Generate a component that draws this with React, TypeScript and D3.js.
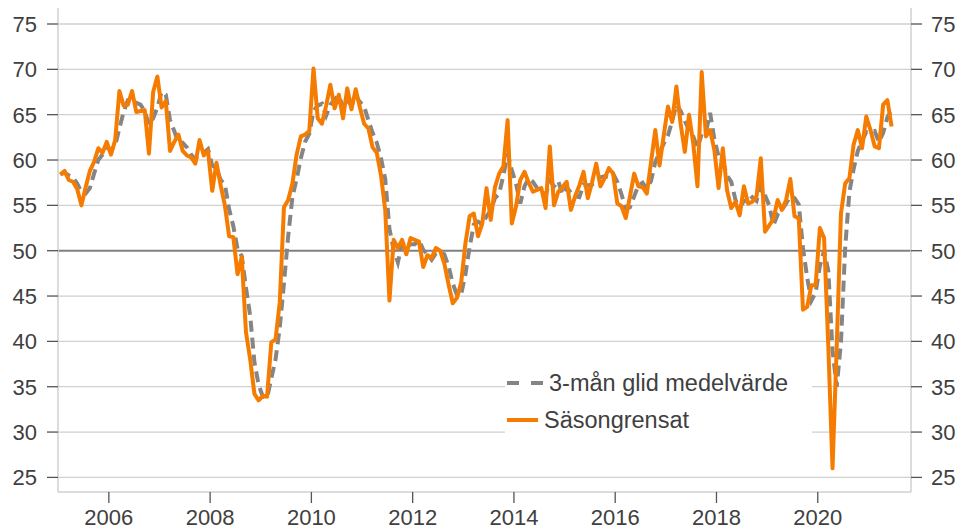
import React from "react";
import * as d3 from "d3";

// Monthly data, Jan 2005 – Jun 2021
const startYear = 2005;

// Säsongrensat (seasonally adjusted)
const sasongrensat: number[] = [
  // 2005
  58.4, 58.8, 57.8, 57.6, 56.8, 55.0, 57.0, 58.8, 59.8, 61.3, 60.8, 62.0,
  // 2006
  60.6, 62.2, 67.6, 66.0, 66.1, 67.6, 65.3, 65.4, 65.5, 60.7, 67.5, 69.2,
  // 2007
  65.8, 66.5, 61.0, 62.0, 62.8, 61.0, 60.5, 60.3, 59.6, 62.2, 60.5, 61.0,
  // 2008
  56.6, 59.7, 57.2, 55.0, 51.6, 51.5, 47.4, 49.3, 41.0, 38.0, 34.2, 33.5,
  // 2009
  34.0, 33.9, 39.9, 40.2, 44.3, 54.8, 55.6, 57.4, 60.6, 62.6, 62.8, 63.2,
  // 2010
  70.1, 64.6, 64.0, 66.0, 68.3, 65.7, 67.2, 64.6, 67.9, 65.6, 67.8, 65.8,
  // 2011
  64.0, 63.5, 61.4, 60.8, 58.3, 54.5, 44.5, 51.2, 50.3, 51.2, 49.6, 51.4,
  // 2012
  51.2, 51.0, 48.2, 49.5, 49.2, 50.3, 50.0, 48.6, 46.3, 44.2, 44.8, 46.5,
  // 2013
  50.8, 53.8, 54.1, 51.6, 53.0, 56.9, 53.4, 57.0, 58.5, 59.3, 64.4, 53.0,
  // 2014
  54.9, 57.8, 58.7, 57.5, 56.5, 56.7, 56.9, 54.7, 61.5, 55.0, 56.5, 57.0,
  // 2015
  57.6, 54.5, 56.0, 57.2, 58.7, 55.8, 57.5, 59.6, 57.1, 58.0, 59.1, 58.5,
  // 2016
  55.2, 54.9, 53.6, 56.0, 58.5, 57.1, 57.0, 56.3, 59.8, 63.3, 59.4, 62.7,
  // 2017
  65.9, 64.2, 68.1, 64.0, 60.9, 65.0, 61.8, 57.1, 69.7, 62.6, 63.3, 61.1,
  // 2018
  56.9, 61.3, 56.7, 54.7, 55.4, 53.9, 57.1, 55.2, 55.4, 56.0, 60.2, 52.1,
  // 2019
  52.8, 53.5, 55.6, 54.5, 55.6, 57.9, 53.8, 53.6, 43.5, 43.8, 46.2, 46.2,
  // 2020
  52.5, 51.4, 39.5, 26.0, 39.5, 54.1, 57.4, 58.0, 61.7, 63.3, 61.3, 64.8,
  // 2021
  63.3, 61.5, 61.3, 66.1, 66.6, 63.7,
];

// 3-mån glid medelvärde (3-month moving average)
const glidMedel: number[] = [
  // 2005
  58.4, 58.6, 58.3, 58.1, 57.4, 56.5, 56.3, 56.9, 58.5, 60.0, 60.6, 61.4,
  // 2006
  61.1, 61.6, 63.5, 65.3, 66.6, 66.6, 66.3, 66.1, 65.4, 63.9, 64.6, 65.8,
  // 2007
  67.5, 67.2, 64.4, 63.2, 61.9, 61.9, 61.4, 60.6, 60.1, 60.7, 60.8, 61.2,
  // 2008
  59.4, 59.1, 57.8, 57.3, 54.6, 52.7, 50.2, 49.4, 45.9, 42.8, 37.7, 35.2,
  // 2009
  33.9, 33.8, 35.9, 38.0, 41.5, 46.4, 51.6, 55.9, 57.9, 60.2, 62.0, 62.9,
  // 2010
  65.4, 66.0, 66.2, 64.9, 66.1, 66.7, 67.1, 65.8, 66.6, 66.0, 67.1, 66.4,
  // 2011
  65.9, 64.4, 63.0, 61.9, 60.2, 57.9, 52.4, 50.1, 48.7, 50.9, 50.4, 50.7,
  // 2012
  50.7, 51.2, 50.1, 49.6, 49.0, 49.7, 49.8, 49.6, 48.3, 46.4, 45.1, 45.2,
  // 2013
  47.4, 50.4, 52.9, 53.2, 52.9, 53.8, 54.4, 55.8, 56.3, 58.3, 60.7, 58.9,
  // 2014
  57.4, 55.2, 57.1, 58.0, 57.6, 56.9, 56.7, 56.1, 57.7, 57.1, 57.7, 56.2,
  // 2015
  57.0, 56.4, 56.0, 55.9, 57.3, 57.2, 57.3, 57.6, 58.1, 58.2, 58.1, 58.5,
  // 2016
  57.6, 56.2, 54.6, 54.8, 56.0, 57.2, 57.5, 56.8, 57.7, 59.8, 60.8, 61.8,
  // 2017
  62.7, 64.3, 66.1, 65.4, 64.3, 63.3, 62.6, 61.3, 62.9, 63.1, 65.2, 62.3,
  // 2018
  60.4, 59.8, 58.3, 57.6, 55.6, 54.7, 55.5, 55.4, 55.9, 55.5, 57.2, 56.1,
  // 2019
  55.0, 52.8, 54.0, 54.5, 55.2, 56.0, 55.8, 55.1, 50.3, 47.0, 44.5, 45.4,
  // 2020
  48.3, 50.0, 47.8, 39.0, 35.0, 39.9, 50.3, 56.5, 59.0, 61.0, 62.1, 63.1,
  // 2021
  63.1, 63.2, 62.0, 63.0, 64.7, 65.5,
];

const yTickValues = [25, 30, 35, 40, 45, 50, 55, 60, 65, 70, 75];
const xTickYears = [2006, 2008, 2010, 2012, 2014, 2016, 2018, 2020];
const seriesNames = ["3-mån glid medelvärde", "Säsongrensat"];

const ORANGE = "#f57c00";
const GRAY = "#858585";
const TEXT = "#404040";
const FONT = "'Liberation Sans', Arial, Helvetica, sans-serif";

export default function App() {
  const W = 959;
  const H = 530;
  const left = 58;
  const right = 911;
  const top = 8;
  const bottom = 492;

  const x = d3.scaleLinear().domain([-0.55, 201.6]).range([left, right]);
  const y = d3.scaleLinear().domain([25, 75]).range([477.4, 24]);

  const line = d3
    .line<number>()
    .x((_, i) => x(i))
    .y((d) => y(d))
    .curve(d3.curveLinear);

  const fontSize = 22;
  const legendFont = 23.5;

  return (
    <svg
      width={W}
      height={H}
      viewBox={`0 0 ${W} ${H}`}
      style={{ position: "absolute", left: 0, top: 0, background: "#fff" }}
    >
      <rect x={0} y={0} width={W} height={H} fill="#fff" />

      {/* gridlines */}
      {yTickValues.map((v) => (
        <line
          key={"g" + v}
          x1={left}
          x2={right}
          y1={y(v)}
          y2={y(v)}
          stroke={v === 50 ? "#808080" : "#d0d0d0"}
          strokeWidth={v === 50 ? 2 : 1.3}
        />
      ))}

      {/* frame */}
      <line x1={left} x2={left} y1={top} y2={bottom} stroke="#d0d0d0" strokeWidth={1.5} />
      <line x1={right} x2={right} y1={top} y2={bottom} stroke="#d0d0d0" strokeWidth={1.5} />
      <line x1={left} x2={right} y1={bottom} y2={bottom} stroke="#d0d0d0" strokeWidth={1.5} />

      {/* y ticks and labels */}
      {yTickValues.map((v) => (
        <g key={"yt" + v}>
          <line x1={47} x2={left} y1={y(v)} y2={y(v)} stroke="#555" strokeWidth={1.3} />
          <line x1={right} x2={922} y1={y(v)} y2={y(v)} stroke="#555" strokeWidth={1.3} />
          <text
            x={37}
            y={y(v)}
            dy="0.36em"
            textAnchor="end"
            fontFamily={FONT}
            fontSize={fontSize}
            fill={TEXT}
          >
            {v}
          </text>
          <text
            x={931}
            y={y(v)}
            dy="0.36em"
            textAnchor="start"
            fontFamily={FONT}
            fontSize={fontSize}
            fill={TEXT}
          >
            {v}
          </text>
        </g>
      ))}

      {/* x ticks and labels */}
      {xTickYears.map((yr) => {
        const xi = x((yr - startYear) * 12 - 0.5);
        return (
          <g key={"xt" + yr}>
            <line x1={xi} x2={xi} y1={bottom} y2={503} stroke="#555" strokeWidth={1.3} />
            <text
              x={xi}
              y={525}
              textAnchor="middle"
              fontFamily={FONT}
              fontSize={fontSize}
              fill={TEXT}
            >
              {yr}
            </text>
          </g>
        );
      })}

      {/* series */}
      <path
        d={line(glidMedel) || ""}
        fill="none"
        stroke={GRAY}
        strokeWidth={4}
        strokeDasharray="11 6"
      />
      <path
        d={line(sasongrensat) || ""}
        fill="none"
        stroke={ORANGE}
        strokeWidth={4}
        strokeLinejoin="round"
      />

      {/* legend */}
      <rect x={505} y={363} width={307} height={77} fill="#fff" />
      <line x1={507} x2={543} y1={383} y2={383} stroke={GRAY} strokeWidth={4} strokeDasharray="12 12" />
      <text x={549} y={383} dy="0.36em" fontFamily={FONT} fontSize={legendFont} fill={TEXT}>
        {seriesNames[0]}
      </text>
      <line x1={507} x2={538} y1={420} y2={420} stroke={ORANGE} strokeWidth={4} />
      <text x={544} y={420} dy="0.36em" fontFamily={FONT} fontSize={legendFont} fill={TEXT}>
        {seriesNames[1]}
      </text>
    </svg>
  );
}
